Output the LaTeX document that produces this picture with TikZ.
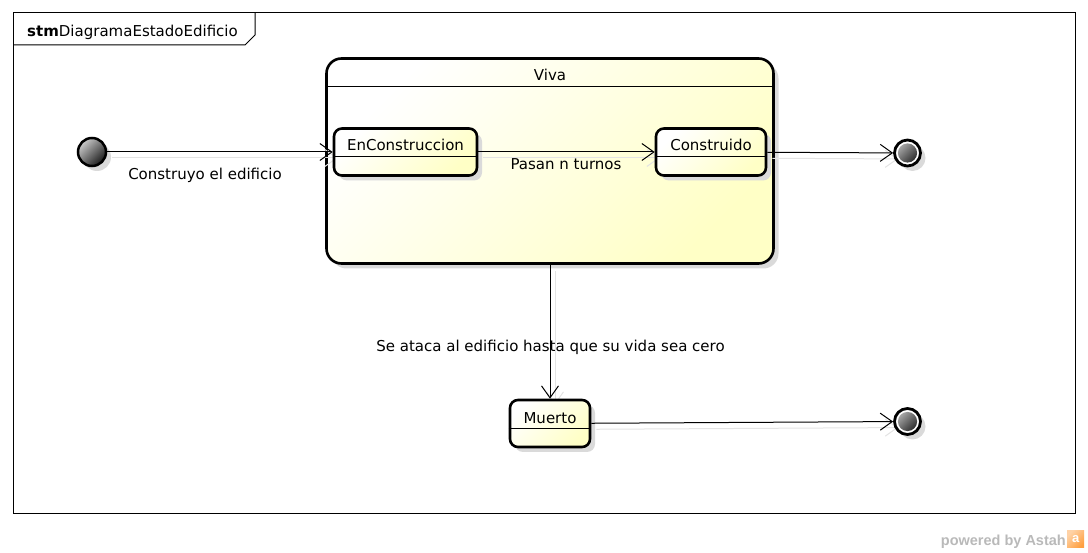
\documentclass[tikz,border=0pt]{standalone}
\usepackage{fontspec}
\setmainfont{DejaVu Sans}
\newfontfamily\arialfont{Liberation Sans}
\usetikzlibrary{arrows.meta,shadows}
\definecolor{ylw}{HTML}{FFFFC6}
\definecolor{shd}{HTML}{DADADA}
\definecolor{lshd}{HTML}{E3E3E3}
\pgfdeclarelayer{shadowlayer}
\pgfsetlayers{shadowlayer,main}
\tikzset{
  lbl/.style={font=\fontsize{15}{18}\selectfont, inner sep=0pt, anchor=base},
  myshadow/.style={drop shadow={shadow xshift=5pt, shadow yshift=-5pt, fill=shd, opacity=1}},
  composite/.style={draw=black, line width=2.6pt, rounded corners=15pt, rectangle,
    top color=white, bottom color=ylw, shading angle=45, myshadow, inner sep=0pt},
  statebox/.style={draw=black, line width=2.6pt, rounded corners=8pt, rectangle,
    top color=white, bottom color=ylw, shading angle=45, myshadow, inner sep=0pt,
    minimum height=47pt},
  sep/.style={line width=1pt},
  initst/.style={circle, draw=black, line width=2.5pt, minimum size=28pt, inner sep=0pt,
    top color=gray!40, bottom color=black!90, shading angle=45, myshadow},
  finalst/.style={circle, draw=black, line width=2.8pt, fill=white, minimum size=26pt, inner sep=0pt,
    myshadow,
    path picture={\shade[top color=gray!55, bottom color=black!90, shading angle=45]
      (path picture bounding box.center) circle (9.6pt);}},
  conn/.style={line width=1pt, -{Straight Barb[length=12pt,width=17pt]}},
  connshadow/.style={line width=1pt, draw=lshd, -{Straight Barb[length=12pt,width=17pt]},
    transform canvas={xshift=5pt,yshift=-6pt}},
}
\begin{document}
\begin{tikzpicture}[x=1pt,y=-1pt]
\useasboundingbox (0,0) rectangle (1088,553);

% frame
\draw[line width=1pt] (13,13) rectangle (1075,513);
\draw[line width=1pt] (13,45) -- (245,45) -- (255,35) -- (255,13);
\node[lbl, anchor=base west] (title) at (27,37) {\textbf{stm}DiagramaEstadoEdificio};

% composite state
\begin{pgfonlayer}{shadowlayer}
\node[composite, minimum width=447pt, minimum height=205pt] (viva) at (550,161) {};
\draw[sep] ([yshift=-29.5pt]viva.north west) -- ([yshift=-29.5pt]viva.north east);
\node[lbl] (vivaT) at ([yshift=-23.75pt]viva.north) {Viva};
\end{pgfonlayer}

% states
\node[initst] (init) at (92,152) {};
\node[statebox, minimum width=143pt] (enc) at (405.5,152) {};
\draw[sep] ([yshift=-29.75pt]enc.north west) -- ([yshift=-29.75pt]enc.north east);
\node[lbl] (encT) at ([yshift=-23.75pt]enc.north) {EnConstruccion};

\node[statebox, minimum width=110pt] (cons) at (711,152) {};
\draw[sep] ([yshift=-29.75pt]cons.north west) -- ([yshift=-29.75pt]cons.north east);
\node[lbl] (consT) at ([yshift=-23.75pt]cons.north) {Construido};

\node[statebox, minimum width=80pt] (muerto) at (550,423.5) {};
\draw[sep] ([yshift=-29.75pt]muerto.north west) -- ([yshift=-29.75pt]muerto.north east);
\node[lbl] (muertoT) at ([yshift=-24.75pt]muerto.north) {Muerto};

\node[finalst] (fin1) at (907.5,153) {};
\node[finalst] (fin2) at (907.5,421.5) {};

% connector shadows
\begin{pgfonlayer}{shadowlayer}
\draw[connshadow] (init) -- (enc);
\draw[connshadow] (enc) -- (cons);
\draw[connshadow] (cons) -- (fin1);
\draw[connshadow] (viva) -- (muerto);
\draw[connshadow] (muerto) -- (fin2);
\end{pgfonlayer}

% connectors
\draw[conn] (init) -- (enc);
\draw[conn] (enc) -- (cons);
\draw[conn] (cons) -- (fin1);
\draw[conn] (viva) -- (muerto);
\draw[conn] (muerto) -- (fin2);

% labels
\node[lbl] (l1) at (205,180) {Construyo el edificio};
\node[lbl] (l2) at (566,170) {Pasan n turnos};
\node[lbl] (l3) at (550.5,351.5) {Se ataca al edificio hasta que su vida sea cero};

% watermark
\node[anchor=base east, inner sep=0pt, text=gray!55,
  font=\arialfont\bfseries\fontsize{14.5}{16}\selectfont] (pw) at (1066,545) {powered by Astah};
\node[anchor=south west, inner sep=0pt, minimum width=17pt, minimum height=17pt,
  top color=orange!35, bottom color=orange!75, shading angle=45,
  text=white, font=\arialfont\bfseries\fontsize{13}{13}\selectfont] (logo) at (1067,548) {a};
\end{tikzpicture}
\end{document}
